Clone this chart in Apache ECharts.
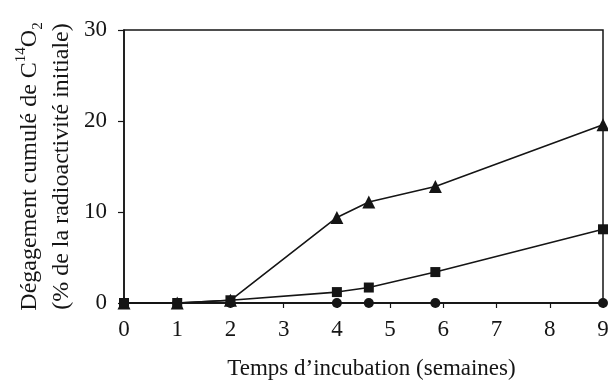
<!DOCTYPE html>
<html><head><meta charset="utf-8">
<script src="https://cdn.jsdelivr.net/npm/echarts@6/dist/echarts.min.js"></script>
<style>html,body{margin:0;padding:0;background:#fff}#c{width:608px;height:385px}</style>
</head><body><div id="c"></div>
<script>
const weeks = [0, 1, 2, 4, 4.6, 5.85, 9];
const triangleVals = [0, 0, 0.3, 9.4, 11.1, 12.8, 19.6];
const squareVals = [0, 0, 0.3, 1.2, 1.7, 3.4, 8.1];
const circleVals = [0, 0, 0, 0, 0, 0, 0];
const xTicks = [0,1,2,3,4,5,6,7,8,9];
const yTicks = [0,10,20,30];

const font = 'Liberation Serif';
const ink = '#151515';
function pairs(vals){ return weeks.map((w,i)=>[w, vals[i]]); }
function ser(vals, symbol, size){
  return {type:'line', data:pairs(vals), symbol:symbol, symbolSize:size,
    lineStyle:{color:ink,width:1.6}, itemStyle:{color:ink}, animation:false, z:3};
}
const chart = echarts.init(document.getElementById('c'));
chart.setOption({
  backgroundColor:'#fff',
  grid:{left:124,right:5,top:30,bottom:82,containLabel:false,outerBoundsMode:'none',
    show:true,borderColor:ink,borderWidth:1.5,backgroundColor:'transparent'},
  xAxis:{type:'value',min:xTicks[0],max:xTicks[xTicks.length-1],interval:1,
    axisLine:{lineStyle:{color:ink,width:1.5}},
    axisTick:{show:true,length:5,inside:false,lineStyle:{color:ink,width:1.2}},
    splitLine:{show:false},
    axisLabel:{color:ink,fontFamily:font,fontSize:23,margin:15},
    name:'Temps d\u2019incubation (semaines)',nameLocation:'middle',nameGap:54,
    nameTextStyle:{color:ink,fontFamily:font,fontSize:23,padding:[0,0,0,16]}},
  yAxis:{type:'value',min:yTicks[0],max:yTicks[yTicks.length-1],interval:10,
    axisLine:{lineStyle:{color:ink,width:1.5}},
    axisTick:{show:true,length:6,inside:false,lineStyle:{color:ink,width:1.2}},
    splitLine:{show:false},
    axisLabel:{color:ink,fontFamily:font,fontSize:23,margin:17},
    name:'{t|Dégagement cumulé de C}{sup|14}{t|O}{sub|2}\n{t|(% de la radioactivité initiale)}',
    nameLocation:'middle',nameRotate:90,nameGap:46,nameMoveOverlap:false,
    nameTextStyle:{color:ink,fontFamily:font,fontSize:24,lineHeight:32,
      rich:{
        t:{fontFamily:font,fontSize:24,color:ink,lineHeight:32},
        sup:{fontFamily:font,fontSize:15,color:ink,verticalAlign:'top',padding:[0,0,12,0]},
        sub:{fontFamily:font,fontSize:15,color:ink,verticalAlign:'bottom',padding:[10,0,0,0]}
      }}},
  series:[
    ser(triangleVals,'triangle',13),
    ser(squareVals,'rect',10),
    ser(circleVals,'circle',10)
  ]
});
</script></body></html>
